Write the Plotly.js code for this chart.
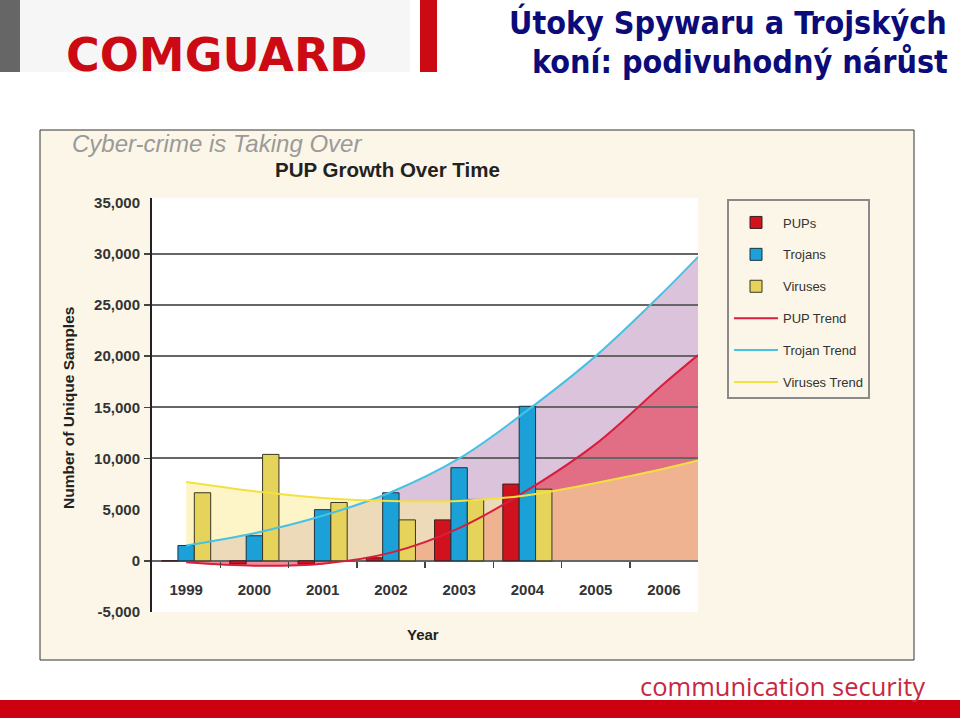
<!DOCTYPE html>
<html>
<head>
<meta charset="utf-8">
<script src="https://cdn.plot.ly/plotly-3.0.1.min.js"></script>
<style>html,body{margin:0;padding:0;background:#fff;}#chart{width:960px;height:718px;}</style>
</head>
<body>
<div id="chart"></div>
<script>
// ---- data ----
const years = [1999, 2000, 2001, 2002, 2003, 2004, 2005, 2006];
const yearLabels = ['1999', '2000', '2001', '2002', '2003', '2004', '2005', '2006'];
const pups = [0, -300, -300, 300, 4000, 7500, null, null];
const trojans = [1500, 2450, 5000, 6650, 9100, 15100, null, null];
const viruses = [6650, 10400, 5700, 4000, 6000, 7000, null, null];

const trendYears = [1999, 2000, 2001, 2002, 2003, 2004, 2005, 2006, 2006.5];
const pupTrend = [-150, -480, -280, 800, 3200, 6900, 11400, 17300, 20100];
const trojanTrend = [1500, 2700, 4400, 6700, 10000, 14700, 20000, 26300, 29700];
const virusTrend = [7700, 6800, 6150, 5850, 5850, 6400, 7600, 9000, 9800];

const yTickVals = [-5000, 0, 5000, 10000, 15000, 20000, 25000, 30000, 35000];
const yTickText = ['-5,000', '0', '5,000', '10,000', '15,000', '20,000', '25,000', '30,000', '35,000'];
const gridVals = [0, 10000, 15000, 20000, 25000, 30000];

// ---- layout helpers ----
const W = 960, H = 718;
const L = 152, R = 698, T = 198, B = 612;
const px = x => (x - L) / (R - L);
const py = y => (B - y) / (B - T);
const yRange = [-5000, 35450];
const xRange = [1998.5, 2006.5];
const zeroPos = (0 - yRange[0]) / (yRange[1] - yRange[0]);
const boundaries = years.slice(0, -1).map(v => v + 0.5);

const C = {
  pup: '#d0121e', trojan: '#1ba0d8', virus: '#e6d35c',
  pupLine: '#d81e3c', trojanLine: '#46c2e2', virusLine: '#f2e13e'
};
const tickFont = {family: 'Liberation Sans, Arial, sans-serif', size: 15, color: '#333', weight: 'bold'};
const legFont = {family: 'Liberation Sans Narrow, Arial Narrow, Liberation Sans, Arial, sans-serif', size: 13, color: '#333'};

const traces = [
  // fills (subplot 1, under everything)
  {x: trendYears, y: trojanTrend, type: 'scatter', mode: 'lines', line: {width: 0, shape: 'spline'},
   fill: 'tozeroy', fillcolor: 'rgba(185,135,185,0.5)', showlegend: false, hoverinfo: 'skip', xaxis: 'x', yaxis: 'y'},
  {x: trendYears, y: pupTrend, type: 'scatter', mode: 'lines', line: {width: 0, shape: 'spline'},
   fill: 'tozeroy', fillcolor: 'rgba(229,25,45,0.5)', showlegend: false, hoverinfo: 'skip', xaxis: 'x', yaxis: 'y'},
  {x: trendYears, y: virusTrend, type: 'scatter', mode: 'lines', line: {width: 0, shape: 'spline'},
   fill: 'tozeroy', fillcolor: 'rgba(251,237,155,0.55)', showlegend: false, hoverinfo: 'skip', xaxis: 'x', yaxis: 'y'},
  // bars (subplot 2)
  {x: years, y: pups, type: 'bar', name: 'PUPs', legendgroup: 'a', marker: {color: C.pup, line: {color: '#3a2020', width: 1}}, xaxis: 'x2', yaxis: 'y2'},
  {x: years, y: trojans, type: 'bar', name: 'Trojans', legendgroup: 'b', marker: {color: C.trojan, line: {color: '#1d3340', width: 1}}, xaxis: 'x2', yaxis: 'y2'},
  {x: years, y: viruses, type: 'bar', name: 'Viruses', legendgroup: 'c', marker: {color: C.virus, line: {color: '#3a3520', width: 1}}, xaxis: 'x2', yaxis: 'y2'},
  // trend lines
  {x: trendYears, y: pupTrend, type: 'scatter', mode: 'lines', name: 'PUP Trend', legendgroup: 'd', line: {color: C.pupLine, width: 2, shape: 'spline'}, xaxis: 'x2', yaxis: 'y2'},
  {x: trendYears, y: trojanTrend, type: 'scatter', mode: 'lines', name: 'Trojan Trend', legendgroup: 'e', line: {color: C.trojanLine, width: 2, shape: 'spline'}, xaxis: 'x2', yaxis: 'y2'},
  {x: trendYears, y: virusTrend, type: 'scatter', mode: 'lines', name: 'Viruses Trend', legendgroup: 'f', line: {color: C.virusLine, width: 2, shape: 'spline'}, xaxis: 'x2', yaxis: 'y2'}
];

const rect = (x0, y0, x1, y1, fill, line) => ({
  type: 'rect', xref: 'paper', yref: 'paper', layer: 'below',
  x0: px(x0), x1: px(x1), y0: py(y1), y1: py(y0),
  fillcolor: fill, line: line || {width: 0}
});

const titleFont = {family: 'DejaVu Sans Condensed, DejaVu Sans, sans-serif', size: 32, color: '#0b0b7a', weight: 'bold'};

const layout = {
  width: W, height: H,
  margin: {l: L, r: W - R, t: T, b: H - B},
  paper_bgcolor: '#ffffff', plot_bgcolor: 'rgba(0,0,0,0)',
  barmode: 'group', bargap: 0.28, bargroupgap: 0,
  showlegend: true,
  legend: {x: px(727), y: py(199), xanchor: 'left', yanchor: 'top', bgcolor: '#fbf6e7',
           bordercolor: '#8a8a8a', borderwidth: 2, font: legFont, itemwidth: 44, tracegroupgap: 12,
           title: {text: '\u00a0', font: {size: 5}}},
  xaxis: {domain: [0, 1], range: xRange, anchor: 'free', position: zeroPos, tickmode: 'array',
          tickvals: years, ticktext: yearLabels, ticks: '', showgrid: false, zeroline: false, showline: false,
          tickfont: tickFont, ticklabelstandoff: 18},
  yaxis: {domain: [0, 1], range: yRange, anchor: 'x', tickmode: 'array', tickvals: yTickVals, ticktext: yTickText,
          ticks: '', showgrid: false, zeroline: false, showline: false, tickfont: tickFont, ticklabelstandoff: 11},
  xaxis2: {domain: [0, 1], range: xRange, anchor: 'free', position: zeroPos, tickmode: 'array', tickvals: boundaries,
           ticks: 'outside', ticklen: 6, tickwidth: 1.5, tickcolor: '#444', showticklabels: false, showgrid: false,
           zeroline: false, showline: false},
  yaxis2: {domain: [0, 1], range: yRange, anchor: 'x2', tickmode: 'array', tickvals: gridVals, ticks: 'outside',
           ticklen: 6, tickcolor: '#444', tickwidth: 1.5, showticklabels: false, showgrid: true, gridcolor: '#666',
           gridwidth: 2, zeroline: false, showline: true, linecolor: '#222', linewidth: 2},
  shapes: [
    rect(0, 0, 20, 72, '#666666'),
    rect(20, 0, 410, 72, '#f6f6f6'),
    rect(420, 0, 437, 72, '#cc0a14'),
    rect(40, 130, 914, 660, '#fbf6e7', {color: '#333', width: 1}),
    rect(L, T, R, B, '#ffffff'),
    rect(0, 700, 960, 718, '#cc0010')
  ],
  annotations: [
    {text: 'COMGUARD', xref: 'paper', yref: 'paper', x: px(217), y: py(55), xanchor: 'center', yanchor: 'middle',
     showarrow: false, font: {family: 'DejaVu Sans, sans-serif', size: 46, color: '#cc0a14', weight: 'bold'}},
    {text: 'Útoky Spywaru a Trojských', xref: 'paper', yref: 'paper', x: px(949), y: py(22), xanchor: 'right', yanchor: 'middle',
     showarrow: false, font: titleFont},
    {text: 'koní: podivuhodný nárůst', xref: 'paper', yref: 'paper', x: px(950), y: py(62), xanchor: 'right', yanchor: 'middle',
     showarrow: false, font: titleFont},
    {text: 'Cyber-crime is Taking Over', xref: 'paper', yref: 'paper', x: px(70), y: py(143), xanchor: 'left', yanchor: 'middle',
     showarrow: false, font: {family: 'Liberation Sans, Arial, sans-serif', size: 24, color: '#9a9a9a', style: 'italic'}},
    {text: 'PUP Growth Over Time', xref: 'paper', yref: 'paper', x: px(387), y: py(170), xanchor: 'center', yanchor: 'middle',
     showarrow: false, font: {family: 'Liberation Sans, Arial, sans-serif', size: 20.5, color: '#222', weight: 'bold'}},
    {text: 'Number of Unique Samples', xref: 'paper', yref: 'paper', x: px(68), y: py(408), xanchor: 'center', yanchor: 'middle',
     textangle: -90, showarrow: false, font: {family: 'Liberation Sans, Arial, sans-serif', size: 15.5, color: '#222', weight: 'bold'}},
    {text: 'Year', xref: 'paper', yref: 'paper', x: px(423), y: py(634), xanchor: 'center', yanchor: 'middle',
     showarrow: false, font: {family: 'Liberation Sans, Arial, sans-serif', size: 15, color: '#222', weight: 'bold'}},
    {text: 'communication security', xref: 'paper', yref: 'paper', x: px(927), y: py(686), xanchor: 'right', yanchor: 'middle',
     showarrow: false, font: {family: 'Open Sans, Noto Sans, sans-serif', size: 25.5, color: '#c8283f'}}
  ]
};

Plotly.newPlot('chart', traces, layout, {staticPlot: true, displayModeBar: false});
</script>
</body>
</html>
